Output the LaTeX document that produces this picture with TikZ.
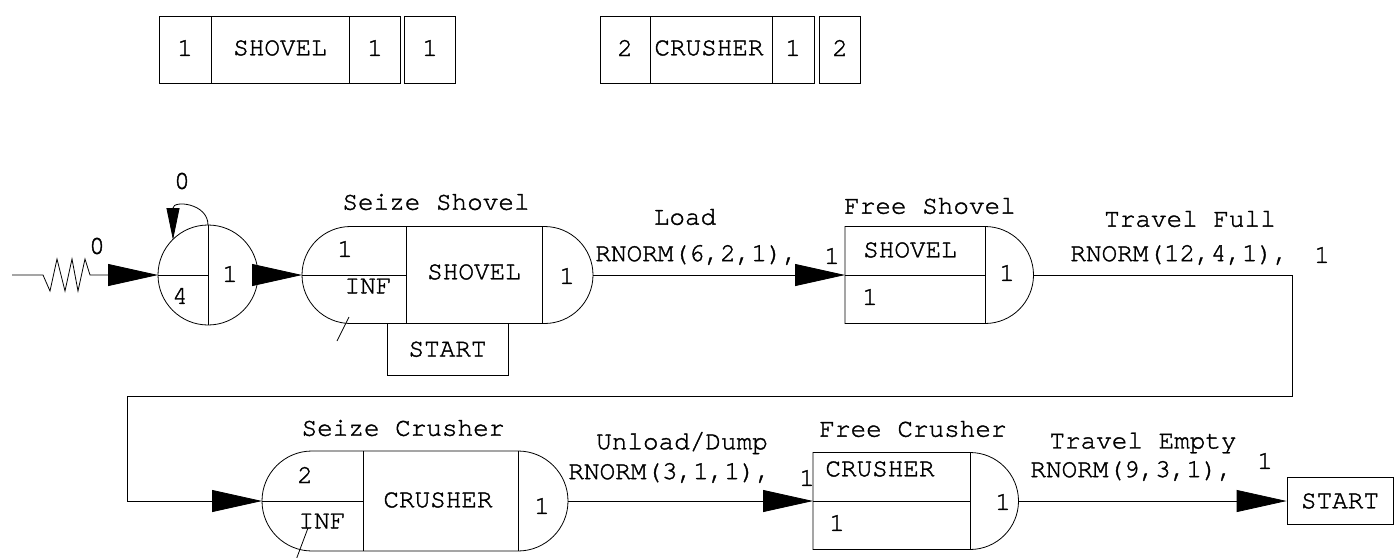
\documentclass[tikz,border=0pt]{standalone}
\usepackage{fontspec}
\setmainfont{TeX Gyre Cursor}[FakeBold=1.4]
\usetikzlibrary{arrows.meta}
\begin{document}
\begin{tikzpicture}[x=1pt, y=1pt, line width=0.8pt, every node/.style={inner sep=0pt, font=\fontsize{26}{30}\selectfont}, >={Triangle[length=50pt, width=22pt]}]
    \path[use as bounding box, fill=white] (0,0) rectangle (1394,-557);
    % resource blocks
    \draw (159,-16) rectangle (400,-83) (211,-16) -- (211,-83) (349,-16) -- (349,-83);
    \draw (404,-16) rectangle (455,-83);
    \node (rs1) at (185,-48) {1};
    \node (rs2) at (280,-48) {SHOVEL};
    \node (rs3) at (375,-48) {1};
    \node (rs4) at (430,-48) {1};
    \draw (600,-16) rectangle (814,-83) (650,-16) -- (650,-83) (772,-16) -- (772,-83);
    \draw (819,-16) rectangle (860,-83);
    \node (rc1) at (625,-48) {2};
    \node (rc2) at (709,-48) {CRUSHER};
    \node (rc3) at (793,-48) {1};
    \node (rc4) at (840,-48) {2};
    % create
    \coordinate (src) at (12,-275);
    \coordinate (create) at (208,-275);
    \coordinate (createW) at (158,-275);
    \coordinate (createE) at (258,-275);
    \coordinate (loopA) at (208,-225);
    \coordinate (loopB) at (173,-240);
    \draw (create) circle[radius=50pt];
    \draw (208,-225) -- (208,-325) (createW) -- (create);
    \node (c4) at (180,-296) {4};
    \node (c1) at (230,-274) {1};
    \node (tbc) at (97,-246) {0};
    \node (maxb) at (182,-181) {0};
    \draw[->] (src) -- (43,-275) -- (50,-291) -- (57,-259) -- (65,-291) -- (72,-259) -- (78,-291) -- (85,-259) -- (90,-275) -- (createW);
    \draw[-{Triangle[length=32pt, width=13pt]}] (loopA) .. controls (208,-203) and (173,-200) .. (173,-208) -- (loopB);
    % seize shovel
    \coordinate (seizeSw) at (302,-275);
    \coordinate (seizeSe) at (593,-275);
    \draw[rounded corners=48.5pt] (302,-226.5) rectangle (593,-323.5);
    \draw (406,-226.5) -- (406,-323.5) (542,-226.5) -- (542,-323.5) (seizeSw) -- (406,-275);
    \draw (349,-317) -- (337,-341);
    \node (ss1) at (345,-249) {1};
    \node (ssinf) at (368,-286) {INF};
    \node (ssres) at (474,-272) {SHOVEL};
    \node (ss2) at (567,-276) {1};
    \node (sslab) at (436,-202) {Seize Shovel};
    \node[draw, minimum width=121pt, minimum height=51.5pt] (start) at (447.5,-349.25) {START};
    \draw[->] (createE) -- (seizeSw);
    % free shovel
    \coordinate (freeSw) at (845,-275);
    \coordinate (freeSe) at (1033.5,-275);
    \draw (985,-226.5) -- (845,-226.5) -- (845,-323.5) -- (985,-323.5) arc[start angle=-90, end angle=90, radius=48.5pt] -- cycle;
    \draw (985,-226.5) -- (985,-323.5) (freeSw) -- (985,-275);
    \node (fsres) at (910,-250) {SHOVEL};
    \node (fs1) at (870,-297) {1};
    \node (fs2) at (1007,-273) {1};
    \node (fslab) at (930,-206) {Free Shovel};
    \draw[->] (seizeSe) -- (freeSw);
    \node (load) at (685,-217) {Load};
    \node[anchor=west] (loadt) at (595,-255) {RNORM(6,2,1),};
    \node (loadp) at (832,-256) {1};
    % travel full
    \coordinate (b1) at (1292,-275);
    \coordinate (b2) at (1292,-396);
    \coordinate (b3) at (127,-396);
    \coordinate (b4) at (127,-501);
    \node (full) at (1190,-219) {Travel Full};
    \node[anchor=west] (fullt) at (1070,-255) {RNORM(12,4,1),};
    \node (fullp) at (1322,-255) {1};
    % seize crusher
    \coordinate (seizeCw) at (262,-501);
    \coordinate (seizeCe) at (568,-501);
    \draw[rounded corners=50pt] (262,-451) rectangle (568,-551);
    \draw (363,-451) -- (363,-551) (518,-451) -- (518,-551) (seizeCw) -- (363,-501);
    \draw (308,-528) -- (296,-560);
    \node (sc1) at (305,-475) {2};
    \node (scinf) at (322,-521) {INF};
    \node (scres) at (438,-500) {CRUSHER};
    \node (sc2) at (542,-506) {1};
    \node (sclab) at (403,-428) {Seize Crusher};
    \draw[->] (freeSe) -- (b1) -- (b2) -- (b3) -- (b4) -- (seizeCw);
    % free crusher
    \coordinate (freeCw) at (813,-501);
    \coordinate (freeCe) at (1018.5,-501);
    \draw (970,-452.5) -- (813,-452.5) -- (813,-549.5) -- (970,-549.5) arc[start angle=-90, end angle=90, radius=48.5pt] -- cycle;
    \draw (970,-452.5) -- (970,-549.5) (freeCw) -- (970,-501);
    \node (fcres) at (880,-469) {CRUSHER};
    \node (fc1) at (837,-523) {1};
    \node (fc2) at (1003,-502) {1};
    \node (fclab) at (913,-429) {Free Crusher};
    \draw[->] (seizeCe) -- (freeCw);
    \node (dump) at (682,-443) {Unload/Dump};
    \node[anchor=west] (dumpt) at (568,-473) {RNORM(3,1,1),};
    \node (dumpp) at (807,-478) {1};
    % travel empty
    \node[draw, minimum width=106pt, minimum height=47pt] (back) at (1340,-501) {START};
    \draw[->] (freeCe) -- (back);
    \node (empty) at (1143,-443) {Travel Empty};
    \node[anchor=west] (emptyt) at (1030,-471) {RNORM(9,3,1),};
    \node (emptyp) at (1265,-461) {1};
\end{tikzpicture}
\end{document}
